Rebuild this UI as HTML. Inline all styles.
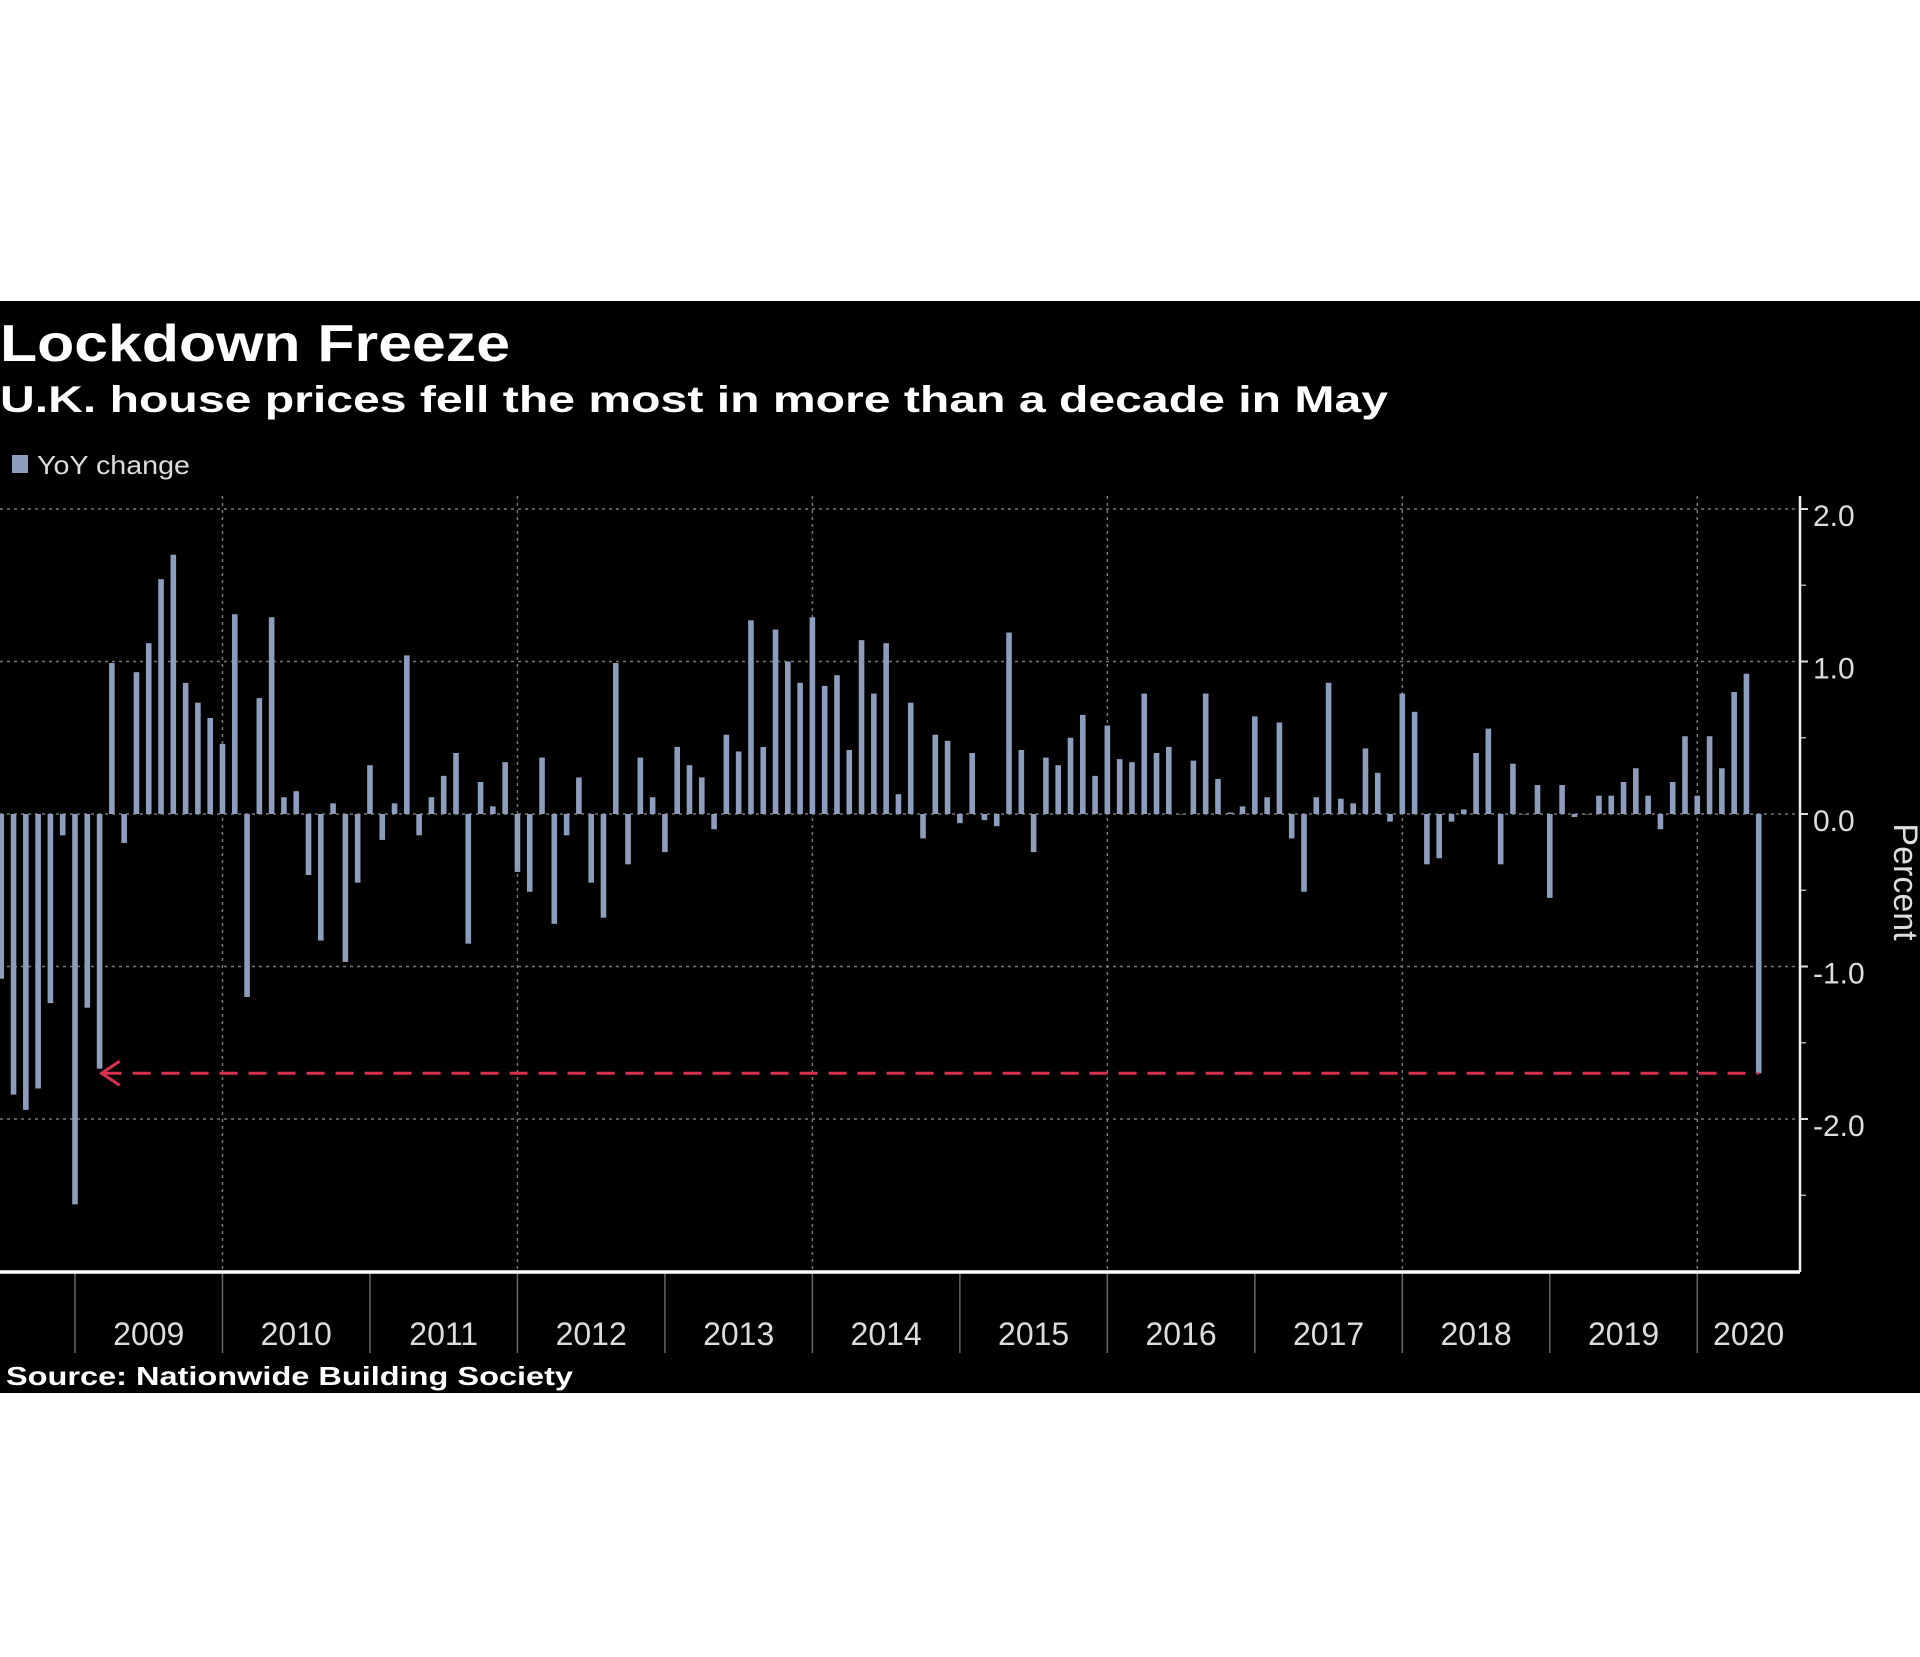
<!DOCTYPE html>
<html><head><meta charset="utf-8"><style>
html,body{margin:0;padding:0;background:#fff;}
svg{display:block;}
text{font-family:"Liberation Sans",sans-serif;}
</style></head><body>
<svg id="chart" width="1920" height="1657" viewBox="0 0 1920 1657" xmlns="http://www.w3.org/2000/svg">
<rect x="0" y="301" width="1920" height="1092" fill="#000"/>
<text x="0" y="361" fill="#fff" font-size="52" font-weight="bold" textLength="510" lengthAdjust="spacingAndGlyphs">Lockdown Freeze</text>
<text x="0" y="412" fill="#fff" font-size="37" font-weight="bold" textLength="1388" lengthAdjust="spacingAndGlyphs">U.K. house prices fell the most in more than a decade in May</text>
<rect x="12" y="455" width="16" height="18" fill="#8c9dbd"/>
<text x="37" y="474" fill="#ddd" font-size="26" textLength="153" lengthAdjust="spacingAndGlyphs">YoY change</text>
<g id="grid"></g><g id="bars"></g><g id="axes"></g>
<text x="6" y="1385" fill="#fff" font-size="26" font-weight="bold" textLength="567" lengthAdjust="spacingAndGlyphs">Source: Nationwide Building Society</text>
</svg>
<script>
const values = [-1.08,-1.84,-1.94,-1.80,-1.24,-0.14,-2.56,-1.27,-1.67,0.99,-0.19,0.93,1.12,1.54,1.70,0.86,0.73,0.63,0.46,1.31,-1.20,0.76,1.29,0.11,0.15,-0.40,-0.83,0.07,-0.97,-0.45,0.32,-0.17,0.07,1.04,-0.14,0.11,0.25,0.40,-0.85,0.21,0.05,0.34,-0.38,-0.51,0.37,-0.72,-0.14,0.24,-0.45,-0.68,0.99,-0.33,0.37,0.11,-0.25,0.44,0.32,0.24,-0.10,0.52,0.41,1.27,0.44,1.21,1.00,0.86,1.29,0.84,0.91,0.42,1.14,0.79,1.12,0.13,0.73,-0.16,0.52,0.48,-0.06,0.40,-0.04,-0.08,1.19,0.42,-0.25,0.37,0.32,0.50,0.65,0.25,0.58,0.36,0.34,0.79,0.40,0.44,0.00,0.35,0.79,0.23,0.01,0.05,0.64,0.11,0.60,-0.16,-0.51,0.11,0.86,0.10,0.07,0.43,0.27,-0.05,0.79,0.67,-0.33,-0.29,-0.05,0.03,0.40,0.56,-0.33,0.33,0.00,0.19,-0.55,0.19,-0.02,0.00,0.12,0.12,0.21,0.30,0.12,-0.10,0.21,0.51,0.12,0.51,0.30,0.80,0.92,-1.70];
const firstIndex = -6;
const yearLabels = ["2009","2010","2011","2012","2013","2014","2015","2016","2017","2018","2019","2020"];
const yTicks = [2,1,0,-1,-2];
const yTickLabels = ["2.0","1.0","0.0","-1.0","-2.0"];
const refValue = -1.70;

const NS="http://www.w3.org/2000/svg";
const X0=75, MONTH=12.29, Y0=814, UNIT=152.5, AXX=1800, AXB=1272, AXT=496;
const xScale=i=>X0+i*MONTH;
const yScale=v=>Y0-v*UNIT;
function mk(tag,attrs,parent){const e=document.createElementNS(NS,tag);for(const k in attrs)e.setAttribute(k,attrs[k]);parent.appendChild(e);return e;}
const grid=document.getElementById('grid'),bars=document.getElementById('bars'),axes=document.getElementById('axes');
yTicks.forEach((t,k)=>{
  const l=mk('line',{x1:0,x2:AXX,y1:yScale(t),y2:yScale(t),stroke:'#777','stroke-width':1.5,'stroke-dasharray':'3 4'},grid);
  
  
  const tk=mk('line',{x1:AXX,x2:AXX+8,y1:yScale(t),y2:yScale(t),stroke:'#ddd','stroke-width':2},axes);
  
  
  const tx=mk('text',{x:AXX+13,y:yScale(t)+17,fill:'#ddd','font-size':30},axes);
  tx.textContent=yTickLabels[k];
  
  
});
for(let v=-2.5;v<=2;v+=1){const tk=mk('line',{x1:AXX,x2:AXX+6,y1:yScale(v),y2:yScale(v),stroke:'#aaa','stroke-width':1.5},axes);
  
  }
yearLabels.forEach((y,k)=>{
  const xs=xScale(k*12), xe=Math.min(xScale((k+1)*12),AXX);
  if(k%2===1){const g=mk('line',{x1:xs,x2:xs,y1:AXT,y2:AXB,stroke:'#777','stroke-width':1.5,'stroke-dasharray':'3 4'},grid);
    
    }
  const d=mk('line',{x1:xs,x2:xs,y1:AXB,y2:1353,stroke:'#666','stroke-width':1.5},axes);
  
  
  const t=mk('text',{x:(xs+xe)/2,y:1345,fill:'#ddd','font-size':32,'text-anchor':'middle'},axes);
  t.textContent=y;
  
  
});
values.forEach((v,k)=>{
  const x=xScale(firstIndex+k), y1=yScale(Math.max(v,0)), y2=yScale(Math.min(v,0));
  const r=mk('rect',{x:x-2.8,y:y1,width:5.6,height:Math.max(y2-y1,0.5),fill:'#8c9dbd'},bars);
  
  
});
const ax=mk('line',{x1:AXX,x2:AXX,y1:AXT,y2:AXB,stroke:'#eee','stroke-width':2.5},axes);


const bx=mk('line',{x1:0,x2:AXX,y1:AXB,y2:AXB,stroke:'#fff','stroke-width':3.5},axes);


const yr=yScale(refValue), xa=xScale(2), xb=xScale(firstIndex+values.length-1);
const dl=mk('line',{x1:xa+4,x2:xb,y1:yr,y2:yr,stroke:'#d8314f','stroke-width':3,'stroke-dasharray':'18 11'},axes);


const ar=mk('polyline',{points:`${xa+20},${yr-12} ${xa+2},${yr} ${xa+20},${yr+12}`,fill:'none',stroke:'#d8314f','stroke-width':3},axes);


const pt=mk('text',{x:0,y:0,fill:'#ddd','font-size':34,'text-anchor':'middle',transform:'translate(1894,882) rotate(90)'},axes);
pt.textContent='Percent';


</script>
</body></html>
